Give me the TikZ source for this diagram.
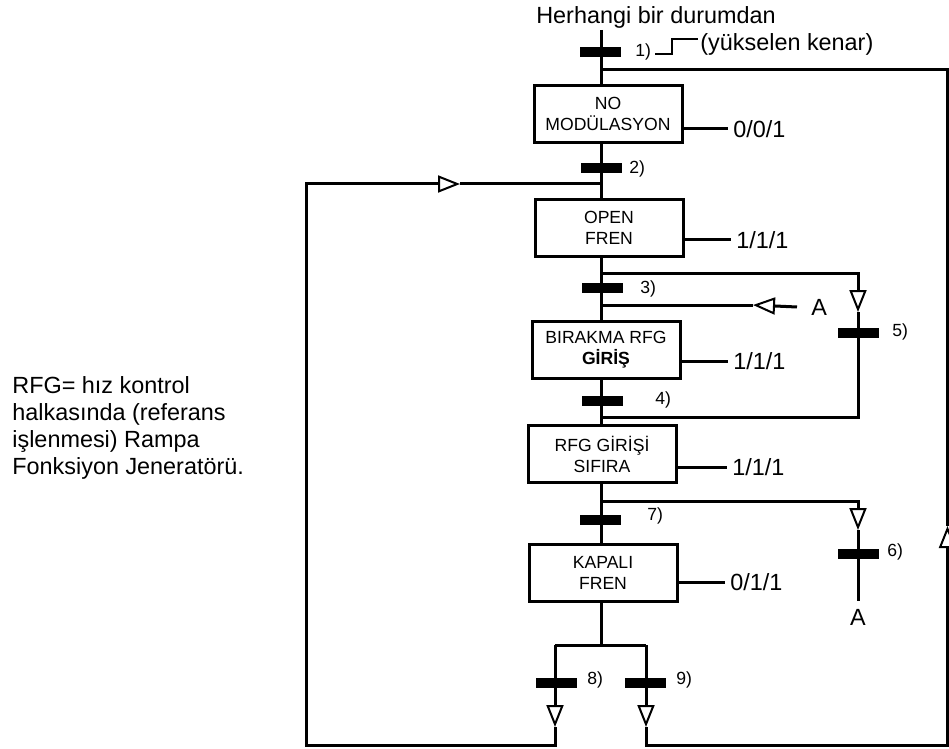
\documentclass[tikz,border=0pt]{standalone}
\usepackage{fontspec}
\setmainfont{Liberation Sans}
\usetikzlibrary{arrows.meta}

\begin{document}
\begin{tikzpicture}[x=0.5pt,y=-0.5pt]
  \tikzstyle{stepbox}=[draw,line width=1.5pt,minimum width=74pt,minimum height=28.5pt,inner sep=0pt,align=center,font=\fontsize{8.8}{10.5}\selectfont]
  \tikzstyle{tbar}=[fill=black,minimum width=20.5pt,minimum height=5.2pt,inner sep=0pt]
  \tikzstyle{tlabel}=[anchor=west,inner sep=0pt,font=\fontsize{8.8}{10.5}\selectfont]
  \tikzstyle{biglabel}=[inner sep=0pt,font=\fontsize{11.7}{13.4}\selectfont]
  \tikzstyle{outlabel}=[biglabel,anchor=west,inner xsep=2.5pt]
  \tikzstyle{edge}=[draw,line width=1.5pt]
  \tikzstyle{aedge}=[edge,-{Triangle[open,length=11pt,width=8.5pt,line width=1pt]}]
  \useasboundingbox (0,0) rectangle (949,749);

  % texts
  \node[biglabel] (from) at (656,17) {Herhangi bir durumdan};
  \node[biglabel,anchor=west] (rise) at (700,44) {(yükselen kenar)};
  \draw[line width=0.6pt] (655,54) -- (672,54) -- (672,39) -- (698,39);
  \node[biglabel,anchor=west,align=left] (note) at (12,428)
    {RFG= hız kontrol\\halkasında (referans\\işlenmesi) Rampa\\Fonksiyon Jeneratörü.};

  % steps
  \node[stepbox] (s1) at (608,114) {NO\\MODÜLASYON};
  \node[stepbox] (s2) at (609,228) {OPEN\\FREN};
  \node[stepbox] (s3) at (606,350) {BIRAKMA RFG\\\textbf{GİRİŞ}};
  \node[stepbox] (s4) at (602,454) {RFG GİRİŞİ\\SIFIRA};
  \node[stepbox] (s5) at (603,573) {KAPALI\\FREN};

  % outputs
  \node[outlabel] (o1) at (728,129) {0/0/1};
  \node[outlabel] (o2) at (731,240) {1/1/1};
  \node[outlabel] (o3) at (728,361) {1/1/1};
  \node[outlabel] (o4) at (727,467) {1/1/1};
  \node[outlabel] (o5) at (725,582) {0/1/1};
  \foreach \i in {1,...,5}
    \draw[edge] (s\i.east |- o\i.west) -- (o\i.west);

  % A in/out
  \node[outlabel,inner xsep=7pt] (A1) at (797,307) {A};
  \node[biglabel,inner ysep=4pt] (A2) at (858,617) {A};

  % corners
  \coordinate (top) at (601,30);
  \coordinate (tr) at (947.5,70);
  \coordinate (ar) at (947.5,526);
  \coordinate (brr) at (947.5,745);
  \coordinate (tl) at (306,184);
  \coordinate (a2) at (460,184);
  \coordinate (bll) at (306,745);
  \coordinate (b5) at (858,274);
  \coordinate (a5) at (858,312);
  \coordinate (e5) at (858,417);
  \coordinate (a3) at (753,305);
  \coordinate (b6) at (858,501);
  \coordinate (a6) at (858,530);
  \coordinate (sl) at (555,645);
  \coordinate (sr) at (646,645);
  \coordinate (a8) at (555,727);
  \coordinate (a9) at (646,727);
  \coordinate (bl) at (555,745);
  \coordinate (br) at (646,745);

  % trunk
  \draw[edge] (top) -- (top |- s1.north);
  \draw[edge] (top |- s1.south) -- (top |- s2.north);
  \draw[edge] (top |- s2.south) -- (top |- s3.north);
  \draw[edge] (top |- s3.south) -- (top |- s4.north);
  \draw[edge] (top |- s4.south) -- (top |- s5.north);
  \draw[edge] (top |- s5.south) -- (top |- sl);
  \draw[edge] (sl) -- (sr);

  % loops
  \draw[aedge] (sl) -- (a8);
  \draw[aedge] (a8) -- (bl) -- (bll) -- (tl) -- (a2);
  \draw[edge] (a2) -- (top |- a2);
  \draw[aedge] (sr) -- (a9);
  \draw[aedge] (a9) -- (br) -- (brr) -- (ar);
  \draw[edge] (ar) -- (tr) -- (top |- tr);
  \draw[aedge] (top |- b5) -- (b5) -- (a5);
  \draw[edge] (a5) -- (e5) -- (top |- e5);
  \draw[aedge] (A1.west) -- (a3);
  \draw[edge] (a3) -- (top |- a3);
  \draw[aedge] (top |- b6) -- (b6) -- (a6);
  \draw[edge] (a6) -- (A2.north);

  % transitions
  \foreach \n/\x/\y in {1/600/52, 2/601/168, 3/602/288, 4/602/401, 5/858/333,
                        6/858/554, 7/600/520, 8/556/683, 9/645/683}
    \node[tbar] (t\n) at (\x,\y) {};
  \foreach \n/\x/\y in {1/635/52, 2/629/169, 3/640/289, 4/655/400, 5/892/332,
                        6/887/552, 7/647/516, 8/587/680, 9/676/680}
    \node[tlabel] (l\n) at (\x,\y) {\n)};
\end{tikzpicture}
\end{document}
